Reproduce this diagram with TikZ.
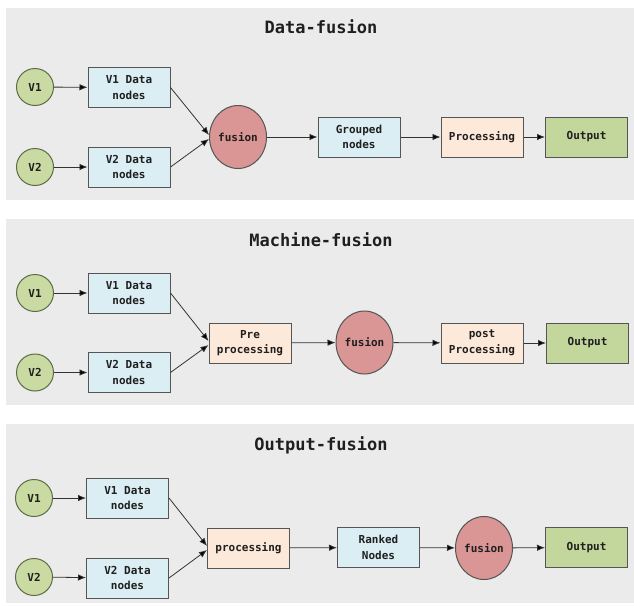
\documentclass[tikz,border=0pt]{standalone}
\usepackage{fontspec}
\setmonofont{DejaVu Sans Mono}
\usetikzlibrary{arrows.meta,shapes.geometric}

\definecolor{panelbg}{HTML}{EBEBEB}
\definecolor{srcfill}{HTML}{C9DAA2}
\definecolor{srcdraw}{HTML}{5E6B45}
\definecolor{datafill}{HTML}{DBEEF4}
\definecolor{procfill}{HTML}{FDE9D9}
\definecolor{outfill}{HTML}{C3D69B}
\definecolor{fusefill}{HTML}{D99694}
\definecolor{edgecol}{HTML}{555555}
\definecolor{inkcol}{HTML}{1F1F1F}

\tikzset{
  panel/.style={fill=panelbg, draw=none},
  title/.style={font=\ttfamily\bfseries\fontsize{17}{20}\selectfont, text=inkcol},
  lbl/.style={font=\ttfamily\bfseries\fontsize{11}{15.5}\selectfont, align=center, text=inkcol},
  src/.style={lbl, circle, draw=srcdraw, line width=1pt, fill=srcfill, minimum size=37pt, inner sep=0pt},
  databox/.style={lbl, rectangle, draw=edgecol, line width=1pt, fill=datafill, minimum width=82pt, minimum height=40pt, inner sep=1pt},
  procbox/.style={databox, fill=procfill},
  outbox/.style={databox, fill=outfill},
  fuse/.style={lbl, ellipse, draw=edgecol, line width=1pt, fill=fusefill, minimum width=57pt, minimum height=63pt, inner sep=0pt},
  link/.style={draw=black!80, line width=0.8pt, -{Latex[length=8pt,width=6.5pt,fill=black]}}
}

\begin{document}
\begin{tikzpicture}[x=1pt,y=-1pt]
\useasboundingbox (0,0) rectangle (634,605);
\fill[white] (0,0) rectangle (634,605);

% background panels
\fill[panel] (6,8) rectangle (634,200);
\fill[panel] (6,219) rectangle (634,405);
\fill[panel] (6,424) rectangle (634,603);

% ---------- Data-fusion ----------
\node[title] (t1) at (321,27) {Data-fusion};
\node[src] (a1) at (35,87) {V1};
\node[src] (a2) at (35,167) {V2};
\node[databox] (ad1) at (129,87.5) {V1 Data\\nodes};
\node[databox] (ad2) at (129,167) {V2 Data\\nodes};
\node[fuse] (af) at (238,137) {fusion};
\node[databox] (ag) at (359,137) {Grouped\\nodes};
\node[procbox] (ap) at (482,137) {Processing};
\node[outbox] (ao) at (586.5,137) {Output};
\draw[link] (a1) -- (ad1);
\draw[link] (a2) -- (ad2);
\draw[link] (ad1.east) -- ([yshift=2pt]af.west);
\draw[link] (ad2.east) -- ([yshift=-2pt]af.west);
\draw[link] (af) -- (ag);
\draw[link] (ag) -- (ap);
\draw[link] (ap) -- (ao);

% ---------- Machine-fusion ----------
\node[title] (t2) at (321,240) {Machine-fusion};
\node[src] (b1) at (35,293) {V1};
\node[src] (b2) at (35,372.5) {V2};
\node[databox] (bd1) at (129,293) {V1 Data\\nodes};
\node[databox] (bd2) at (129,372.5) {V2 Data\\nodes};
\node[procbox] (bp) at (250,343) {Pre\\processing};
\node[fuse] (bf) at (364.5,342.5) {fusion};
\node[procbox] (bq) at (482,343) {post\\Processing};
\node[outbox] (bo) at (587.5,343) {Output};
\draw[link] (b1) -- (bd1);
\draw[link] (b2) -- (bd2);
\draw[link] (bd1.east) -- ([yshift=2pt]bp.west);
\draw[link] (bd2.east) -- ([yshift=-2pt]bp.west);
\draw[link] (bp) -- (bf);
\draw[link] (bf) -- (bq);
\draw[link] (bq) -- (bo);

% ---------- Output-fusion ----------
\node[title] (t3) at (321,445) {Output-fusion};
\node[src] (c1) at (34,498) {V1};
\node[src] (c2) at (34,577) {V2};
\node[databox] (cd1) at (127.5,498) {V1 Data\\nodes};
\node[databox] (cd2) at (127.5,578) {V2 Data\\nodes};
\node[procbox] (cp) at (248.5,548) {processing};
\node[databox] (cr) at (378.5,547.5) {Ranked\\Nodes};
\node[fuse] (cf) at (484,548) {fusion};
\node[outbox] (co) at (586.5,547.5) {Output};
\draw[link] (c1) -- (cd1);
\draw[link] (c2) -- (cd2);
\draw[link] (cd1.east) -- ([yshift=2pt]cp.west);
\draw[link] (cd2.east) -- ([yshift=-2pt]cp.west);
\draw[link] (cp) -- (cr);
\draw[link] (cr) -- (cf);
\draw[link] (cf) -- (co);
\end{tikzpicture}
\end{document}
